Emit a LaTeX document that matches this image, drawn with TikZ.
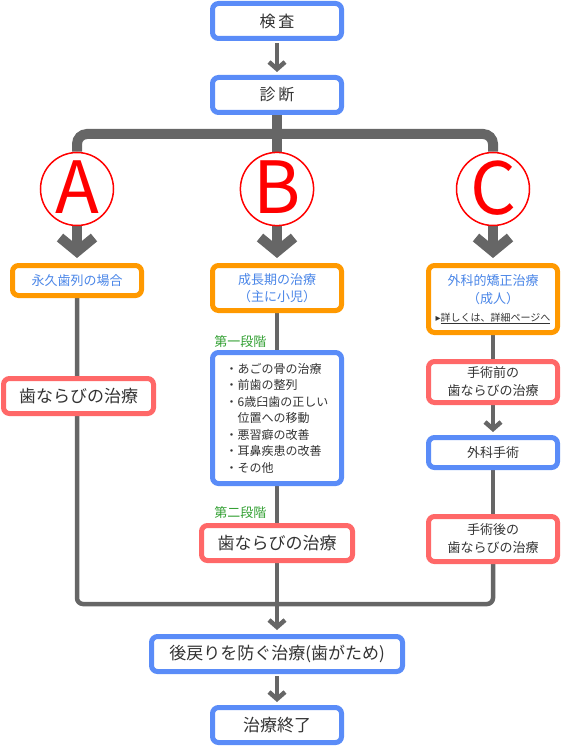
\documentclass[tikz,border=0pt]{standalone}
\usepackage{fontspec}
\setmainfont{Noto Sans CJK JP}
\newfontfamily\symfont{DejaVu Sans}
\usetikzlibrary{arrows.meta}
\usetikzlibrary{backgrounds}
\definecolor{flow-blue}{HTML}{5A8CF8}
\definecolor{flow-orange}{HTML}{FF9900}
\definecolor{flow-red}{HTML}{FF6868}
\definecolor{flow-gray}{HTML}{666666}
\definecolor{flow-green}{HTML}{33A033}
\definecolor{label-blue}{HTML}{4A86E8}
\colorlet{body}{black!80}
\newcommand{\fsize}[1]{\fontsize{#1}{#1}\selectfont}

\begin{document}
\begin{tikzpicture}[x=1pt,y=-1pt,
  box/.style={draw,fill=white,line width=5pt,rounded corners=6pt,inner sep=0pt,align=center,text=body},
  bluebox/.style={box,draw=flow-blue},
  orangebox/.style={box,draw=flow-orange,text=label-blue,font=\fsize{13}},
  redbox/.style={box,draw=flow-red},
  letter circle/.style={circle,draw=red,line width=1.5pt,minimum size=73pt,inner sep=0pt,text=red,font=\fsize{72}},
  stage/.style={text=flow-green,font=\fsize{13},anchor=east},
  trunk/.style={draw=flow-gray,line width=10pt,rounded corners=10pt},
  thin line/.style={draw=flow-gray,line width=4.5pt,rounded corners=6pt},
  big arrow/.style={-{Straight Barb[length=14pt,width=34pt]}},
  small arrow/.style={-{Straight Barb[length=7pt,width=16pt]}}]
\useasboundingbox (0,0) rectangle (561,746);
% start
\node[bluebox,minimum width=129pt,minimum height=35pt,font=\fsize{16}] (check) at (277,21) {検\hspace{3pt}査};
\node[bluebox,minimum width=129pt,minimum height=35pt,font=\fsize{16}] (diag) at (277,95) {診\hspace{3pt}断};
% three courses
\node[letter circle] (circA) at (77,189) {\raisebox{3pt}{A}};
\node[letter circle] (circB) at (277,189) {\raisebox{3pt}{B}};
\node[letter circle] (circC) at (493,189) {\raisebox{3pt}{C}};
\node[orangebox,minimum width=129pt,minimum height=30pt] (boxA) at (77,280.5) {永久歯列の場合};
\node[orangebox,minimum width=129pt,minimum height=45pt,font=\fontsize{13}{17}\selectfont] (boxB) at (277,288) {成長期の治療\\（主に小児）};
\node[orangebox,minimum width=129pt,minimum height=67pt,font=\fontsize{13}{18}\selectfont] (boxC) at (493,299) {外科的矯正治療\\（成人）\\{\color{body}\fsize{10}{\symfont ▸}\underline{詳しくは、詳細ページへ}}};
% course A
\node[redbox,minimum width=150pt,minimum height=35pt,font=\fsize{17}] (treatA) at (78.5,396) {歯ならびの治療};
% course B
\node[stage] (first) at (270,342) {第一段階};
\node[bluebox,minimum width=129pt,minimum height=131pt,align=left,font=\fontsize{12}{16.5}\selectfont] (stage1) at (277,418) {・あごの骨の治療\\・前歯の整列\\・6歳臼歯の正しい\\\phantom{・}位置への移動\\・悪習癖の改善\\・耳鼻疾患の改善\\・その他};
\node[stage] (second) at (270,513) {第二段階};
\node[redbox,minimum width=151pt,minimum height=35pt,font=\fsize{17}] (treatB) at (277,543) {歯ならびの治療};
% course C
\node[redbox,minimum width=129pt,minimum height=41pt,font=\fontsize{13}{18}\selectfont] (preC) at (493,382) {手術前の\\歯ならびの治療};
\node[bluebox,minimum width=129pt,minimum height=30pt,font=\fsize{13}] (surgC) at (493,452.5) {外科手術};
\node[redbox,minimum width=129pt,minimum height=45pt,font=\fontsize{13}{18}\selectfont] (postC) at (493,539) {手術後の\\歯ならびの治療};
% end
\node[bluebox,minimum width=251pt,minimum height=35pt,font=\fsize{17}] (retain) at (277,654) {後戻りを防ぐ治療(歯がため)};
\node[bluebox,minimum width=129pt,minimum height=35pt,font=\fsize{17}] (finish) at (277,725) {治療終了};
\coordinate (topbar) at (277,134);
\coordinate (botbar) at (277,604);
\begin{scope}[on background layer]
% branches
\draw[thin line,small arrow,shorten <=2pt,shorten >=3pt] (check) -- (diag);
\draw[trunk] (diag.south) -- (circB.north);
\draw[trunk] (circA.north) |- (topbar) -| (circC.north);
\foreach \course in {A,B,C} {
  \draw[trunk,big arrow,shorten >=5pt] (circ\course.south) -- (box\course.north);
}
% courses
\draw[thin line] (boxA.south) |- (botbar) -| (postC.south);
\draw[thin line] (boxB.south) -- (stage1.north);
\draw[thin line] (stage1.south) -- (treatB.north);
\draw[thin line] (boxC.south) -- (preC.north);
\draw[thin line,small arrow,shorten >=3pt] (preC.south) -- (surgC.north);
\draw[thin line] (surgC.south) -- (postC.north);
% merge
\draw[thin line,small arrow,shorten >=4pt] (treatB.south) -- (retain.north);
\draw[thin line,small arrow,shorten <=2pt,shorten >=3pt] (retain) -- (finish);
\end{scope}
\end{tikzpicture}
\end{document}
